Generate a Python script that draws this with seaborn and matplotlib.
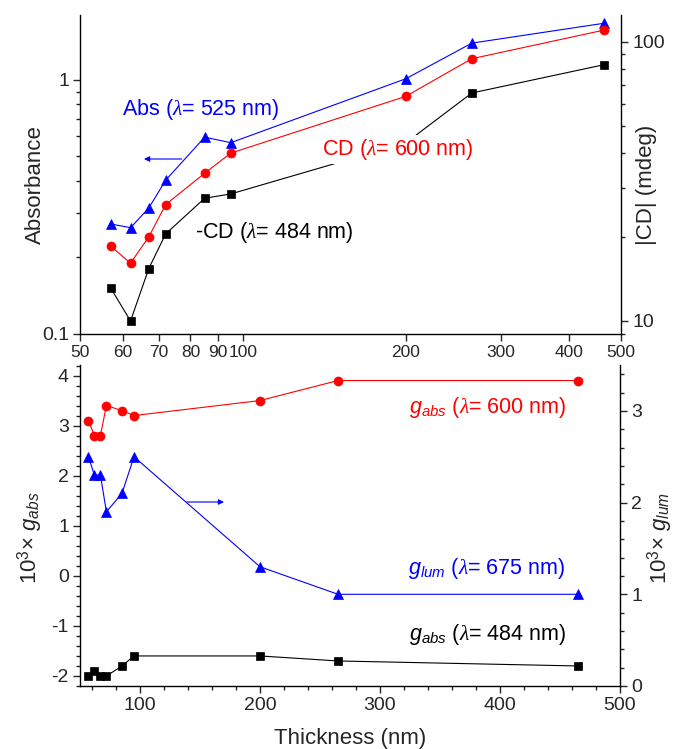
import numpy as np
import pandas as pd
import seaborn as sns
import matplotlib
matplotlib.use("Agg")
import matplotlib.pyplot as plt
from matplotlib.ticker import FixedLocator, FixedFormatter, NullLocator, LogLocator, MultipleLocator, NullFormatter

# ---------------- data ----------------
thickness = [57, 62, 67, 72, 85, 95, 200, 265, 465]
abs_525 = [0.271, 0.262, 0.313, 0.403, 0.595, 0.566, 1.01, 1.395, 1.67]
cd_600 = [18.5, 16.1, 20.0, 26.1, 33.8, 39.9, 63.7, 86.9, 110]
cd_484 = [13.1, 10.0, 15.4, 20.5, 27.5, 28.5, 43.4, 65.5, 82.7]
gabs_600 = [3.1, 2.8, 2.8, 3.4, 3.3, 3.2, 3.5, 3.9, 3.9]
gabs_484 = [-2.0, -1.9, -2.0, -2.0, -1.8, -1.6, -1.6, -1.7, -1.8]
glum_675 = [2.5, 2.3, 2.3, 1.9, 2.1, 2.5, 1.3, 1.0, 1.0]

top_xticks = [50, 60, 70, 80, 90, 100, 200, 300, 400, 500]
top_xticklabels = ["50", "60", "70", "80", "90", "100", "200", "300", "400", "500"]

df = pd.DataFrame(dict(t=thickness, abs525=abs_525, cd600=cd_600, cd484=cd_484,
                       g600=gabs_600, g484=gabs_484, glum=glum_675))

sns.set_style("ticks")
plt.rcParams["font.family"] = ["Liberation Sans", "DejaVu Sans"]
plt.rcParams["mathtext.fontset"] = "custom"
plt.rcParams["mathtext.rm"] = "Liberation Sans"
plt.rcParams["mathtext.it"] = "Liberation Serif:italic"
plt.rcParams["mathtext.sf"] = "Liberation Sans:italic"
plt.rcParams["axes.linewidth"] = 1.0
plt.rcParams["axes.edgecolor"] = "black"
plt.rcParams["axes.unicode_minus"] = False

fig = plt.figure(figsize=(6.74, 7.49), dpi=100)
ax1 = fig.add_axes([80/674, 1-334/749, 541/674, 319/749])
ax1r = ax1.twinx()
ax2 = fig.add_axes([80/674, 1-686/749, 540/674, 321/749])
ax2r = ax2.twinx()

lw = 0.8
BLUE, RED, BLACK = "#0000ff", "#ff0000", "#000000"

def line(ax, y, color, marker, ms):
    sns.lineplot(data=df, x="t", y=y, ax=ax, color=color, marker=marker,
                 markersize=ms, markeredgecolor=color, markeredgewidth=0.5,
                 linewidth=lw, legend=False, sort=False)

# ---------------- top panel ----------------
line(ax1, "abs525", BLUE, "^", 7)
line(ax1r, "cd600", RED, "o", 6.5)
line(ax1r, "cd484", BLACK, "s", 5.5)

for a in (ax1, ax1r):
    a.set_xscale("log")
ax1.set_yscale("log")
ax1r.set_yscale("log")
ax1.set_xlim(50, 500)
ax1.set_ylim(0.1, 1.8)
ax1r.set_ylim(8.98, 124.6)

ax1.xaxis.set_major_locator(FixedLocator(top_xticks))
ax1.xaxis.set_major_formatter(FixedFormatter(top_xticklabels))
ax1.xaxis.set_minor_locator(NullLocator())
ax1.yaxis.set_major_locator(FixedLocator([0.1, 1]))
ax1.yaxis.set_major_formatter(FixedFormatter(["0.1", "1"]))
ax1.yaxis.set_minor_locator(LogLocator(base=10, subs=np.arange(2, 10)))
ax1.yaxis.set_minor_formatter(NullFormatter())
ax1r.yaxis.set_major_locator(FixedLocator([10, 100]))
ax1r.yaxis.set_major_formatter(FixedFormatter(["10", "100"]))
ax1r.yaxis.set_minor_locator(LogLocator(base=10, subs=np.arange(2, 10)))
ax1r.yaxis.set_minor_formatter(NullFormatter())

ax1.set_xlabel("")
ax1.set_ylabel("Absorbance", fontsize=16, va="center")
ax1.yaxis.set_label_coords(-0.083, 0.47)
ax1r.set_ylabel("|CD| (mdeg)", fontsize=16, va="center", rotation=90)
ax1r.yaxis.set_label_coords(1.0475, 0.467)

ax1.text(0.077, 0.6865, r"Abs ($\lambda$= 525 nm)", transform=ax1.transAxes,
         color=BLUE, fontsize=15.5, ha="left", va="baseline")
ax1r.text(0.4467, 0.5611, r"CD ($\lambda$= 600 nm)", transform=ax1r.transAxes,
          color=RED, fontsize=15.5, ha="left", va="baseline", zorder=10,
          bbox=dict(facecolor="white", edgecolor="none", pad=1.5))
ax1r.text(0.2126, 0.2999, r"-CD ($\lambda$= 484 nm)", transform=ax1r.transAxes,
          color=BLACK, fontsize=15.5, ha="left", va="baseline")
ax1.annotate("", xy=(0.1183, 0.5486), xytext=(0.188, 0.5486),
             xycoords="axes fraction", textcoords="axes fraction",
             arrowprops=dict(arrowstyle="-|>", color=BLUE, lw=lw, mutation_scale=8,
                             shrinkA=0, shrinkB=0))

# ---------------- bottom panel ----------------
line(ax2, "g600", RED, "o", 6.5)
line(ax2, "g484", BLACK, "s", 5.5)
line(ax2r, "glum", BLUE, "^", 7)

ax2.set_xlim(50, 500)
ax2.set_ylim(-2.2, 4.21)
ax2r.set_ylim(0, 3.5)
ax2.xaxis.set_major_locator(FixedLocator([100, 200, 300, 400, 500]))
ax2.xaxis.set_minor_locator(MultipleLocator(20))
ax2.yaxis.set_major_locator(MultipleLocator(1))
ax2.yaxis.set_minor_locator(MultipleLocator(0.2))
ax2r.yaxis.set_major_locator(MultipleLocator(1))
ax2r.yaxis.set_minor_locator(MultipleLocator(0.2))

ax2.set_xlabel("Thickness (nm)", fontsize=16, va="center")
ax2.xaxis.set_label_coords(0.5, -0.162)
ax2.set_ylabel(r"10$^{3}$$\times$ $\mathsf{g}_{\mathsf{abs}}$", fontsize=16, va="center")
ax2.yaxis.set_label_coords(-0.092, 0.461)
ax2r.set_ylabel(r"10$^{3}$$\times$ $\mathsf{g}_{\mathsf{lum}}$", fontsize=16, va="center", rotation=90)
ax2r.yaxis.set_label_coords(1.074, 0.46)

ax2.text(0.609, 0.8495, r"$\mathsf{g}_{\mathsf{abs}}$ ($\lambda$= 600 nm)", transform=ax2.transAxes,
         color=RED, fontsize=15.5, ha="left", va="baseline")
ax2.text(0.607, 0.3498, r"$\mathsf{g}_{\mathsf{lum}}$ ($\lambda$= 675 nm)", transform=ax2.transAxes,
         color=BLUE, fontsize=15.5, ha="left", va="baseline")
ax2.text(0.609, 0.1423, r"$\mathsf{g}_{\mathsf{abs}}$ ($\lambda$= 484 nm)", transform=ax2.transAxes,
         color=BLACK, fontsize=15.5, ha="left", va="baseline")
ax2.annotate("", xy=(0.2667, 0.5732), xytext=(0.1976, 0.5732),
             xycoords="axes fraction", textcoords="axes fraction",
             arrowprops=dict(arrowstyle="-|>", color=BLUE, lw=lw, mutation_scale=8,
                             shrinkA=0, shrinkB=0))

# ---------------- styling ----------------
for a in (ax1, ax1r, ax2, ax2r):
    a.spines["top"].set_visible(False)
    a.tick_params(which="major", length=5, width=1.0, labelsize=14, direction="out", pad=3)
    a.tick_params(which="minor", length=3, width=1.0, direction="out")
ax1.tick_params(axis="x", which="major", labelsize=12.5)
ax1.spines["right"].set_visible(False)
ax2.spines["right"].set_visible(False)
ax1r.spines["right"].set_visible(True)
ax2r.spines["right"].set_visible(True)
ax1r.spines["left"].set_visible(False)
ax2r.spines["left"].set_visible(False)
ax1r.spines["bottom"].set_visible(False)
ax2r.spines["bottom"].set_visible(False)
ax1.set_xlabel("")
ax1r.set_xlabel("")
ax2r.set_xlabel("")

fig.savefig("out.png", dpi=100)
